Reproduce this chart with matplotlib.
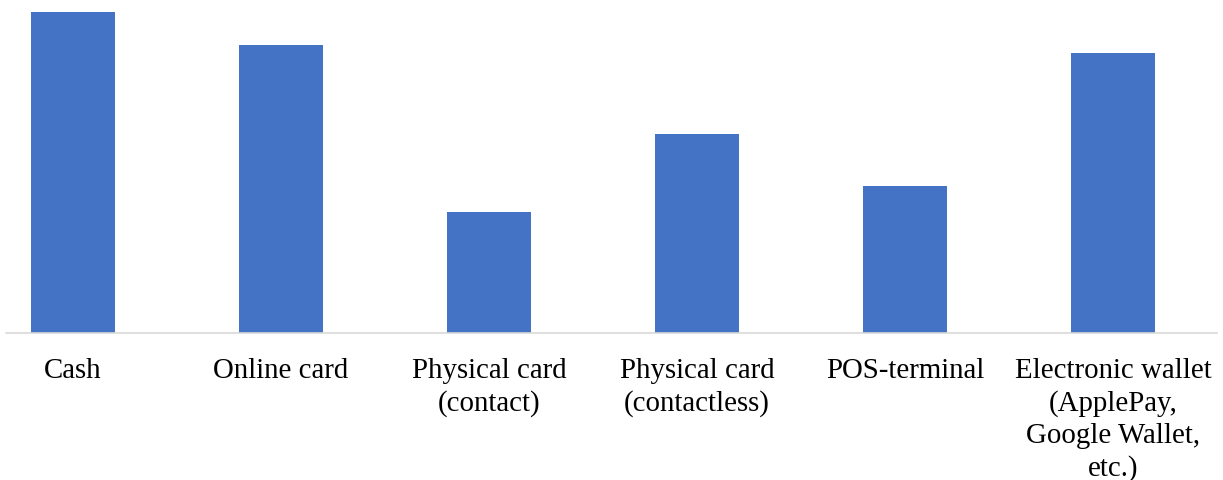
import matplotlib.pyplot as plt
import numpy as np

# ==========================================
# DATA (no axis given)
# ==========================================

categories = [
    "Cash",
    "Online card",
    "Physical card\n(contact)",
    "Physical card\n(contactless)",
    "POS-terminal",
    "Electronic wallet\n(ApplePay,\nGoogle Wallet,\netc.)",
]
values = [32.1, 28.8, 12.1, 19.9, 14.7, 28.0]

BAR_COLOR = "#4472C4"

# ==========================================
# FIGURE
# ==========================================

W, H = 1223, 481
fig = plt.figure(figsize=(W / 100, H / 100), dpi=100)

# axes runs a bit past the left edge, like the cropped original
ax = fig.add_axes([-31 / W, (H - 334) / H, 1248 / W, 334 / H])

x = np.arange(len(categories))
ax.bar(x, values, width=0.4, color=BAR_COLOR, zorder=2)

ax.set_xlim(-0.5, len(categories) - 0.5)
ax.set_ylim(0, 33.4)

ax.set_xticks(x)
ax.set_xticklabels(categories, fontfamily="Liberation Serif", fontsize=20.8,
                   linespacing=1.3)
ax.tick_params(axis="x", length=0, pad=17)
ax.set_yticks([])

for side in ["top", "left", "right"]:
    ax.spines[side].set_visible(False)
ax.spines["bottom"].set_color("#d9d9d9")
ax.spines["bottom"].set_linewidth(1.2)
ax.spines["bottom"].set_bounds(-0.32, len(categories) - 0.5)

fig.savefig("out.png", dpi=100)
